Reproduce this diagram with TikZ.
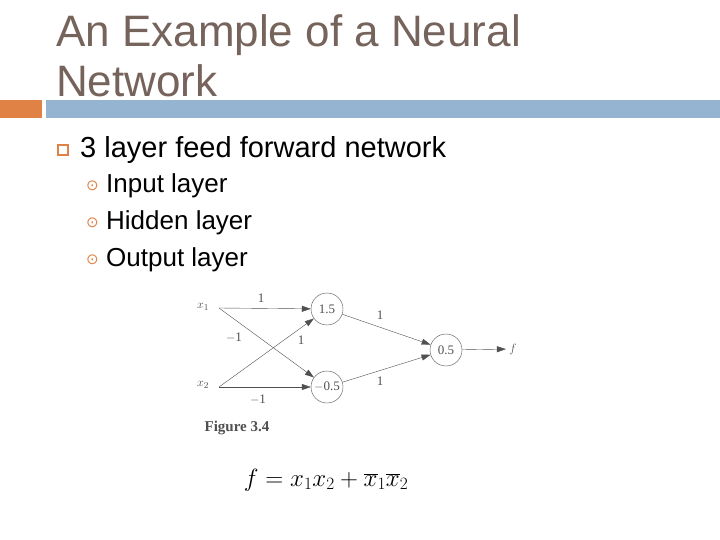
\documentclass[tikz,border=0pt]{standalone}
\usepackage{fontspec}
\setmainfont{Liberation Sans}
\newfontfamily\dejavu{DejaVu Sans}
\newfontfamily\serifx{Liberation Serif}
\usetikzlibrary{arrows.meta}
\definecolor{titlec}{RGB}{118,100,92}
\definecolor{orangec}{RGB}{224,130,70}
\definecolor{bluec}{RGB}{148,180,210}
\definecolor{netc}{RGB}{80,80,80}
\begin{document}
\begin{tikzpicture}[x=1pt,y=-1pt,
  neuron/.style={draw=netc,circle,minimum size=32pt,inner sep=0pt,font=\serifx\fontsize{13}{13}\selectfont,text=netc},
  edge/.style={draw=netc,-{Triangle[length=9pt,width=6pt]}},
  wlab/.style={font=\serifx\fontsize{13}{13}\selectfont,text=netc},
  txt/.style={anchor=west,inner sep=0pt}]
\useasboundingbox (0,0) rectangle (720,540);
\fill[white] (0,0) rectangle (720,540);
\node[txt,text=titlec,font=\fontsize{44}{46}\selectfont,anchor=base west] (t1) at (56,47) {An Example of a Neural};
\node[txt,text=titlec,font=\fontsize{44}{46}\selectfont,anchor=base west] (t2) at (56,97) {Network};
\fill[orangec] (0,100) rectangle (42,118);
\fill[bluec] (46,100) rectangle (720,118);
\node[draw=orangec,line width=1.2pt,minimum size=10pt,inner sep=0pt] (b0) at (63,150) {};
\node[txt,font=\fontsize{29}{30}\selectfont] (l0) at (80,150) {3 layer feed forward network};
\node[txt,text=orangec,font=\dejavu\fontsize{15}{16}\selectfont] (s1) at (86,186) {⊙};
\node[txt,font=\fontsize{26}{28}\selectfont] (l1) at (106,186) {Input layer};
\node[txt,text=orangec,font=\dejavu\fontsize{15}{16}\selectfont] (s2) at (86,223) {⊙};
\node[txt,font=\fontsize{26}{28}\selectfont] (l2) at (106,223) {Hidden layer};
\node[txt,text=orangec,font=\dejavu\fontsize{15}{16}\selectfont] (s3) at (86,260) {⊙};
\node[txt,font=\fontsize{26}{28}\selectfont] (l3) at (106,260) {Output layer};
% network
\node[wlab] (x1) at (203,307) {$x_1$};
\node[wlab] (x2) at (203,385) {$x_2$};
\coordinate (x1e) at (219,308);
\coordinate (x2e) at (219,387);
\node[neuron] (h1) at (327,309) {1.5};
\node[neuron] (h2) at (327,387) {$-$0.5};
\node[neuron] (o) at (446,350) {0.5};
\node[wlab] (f) at (513,349) {$f$};
\draw[edge] (x1e) -- (h1);
\draw[edge] (x1e) -- (h2);
\draw[edge] (x2e) -- (h1);
\draw[edge] (x2e) -- (h2);
\draw[edge] (h1) -- (o);
\draw[edge] (h2) -- (o);
\draw[edge] (o) -- (f);
\node[wlab] (w1) at (261,298) {1};
\node[wlab] (w2) at (234,338) {$-$1};
\node[wlab] (w3) at (301,340) {1};
\node[wlab] (w4) at (258,400) {$-$1};
\node[wlab] (w5) at (380,315) {1};
\node[wlab] (w6) at (380,381) {1};
\node[font=\serifx\bfseries\fontsize{15}{15}\selectfont,text=netc] (fig) at (237,428) {Figure 3.4};
\node[font=\serifx\fontsize{26}{28}\selectfont] (eq) at (326,480) {$f = x_1x_2 + \overline{x}_1\overline{x}_2$};
\end{tikzpicture}
\end{document}
